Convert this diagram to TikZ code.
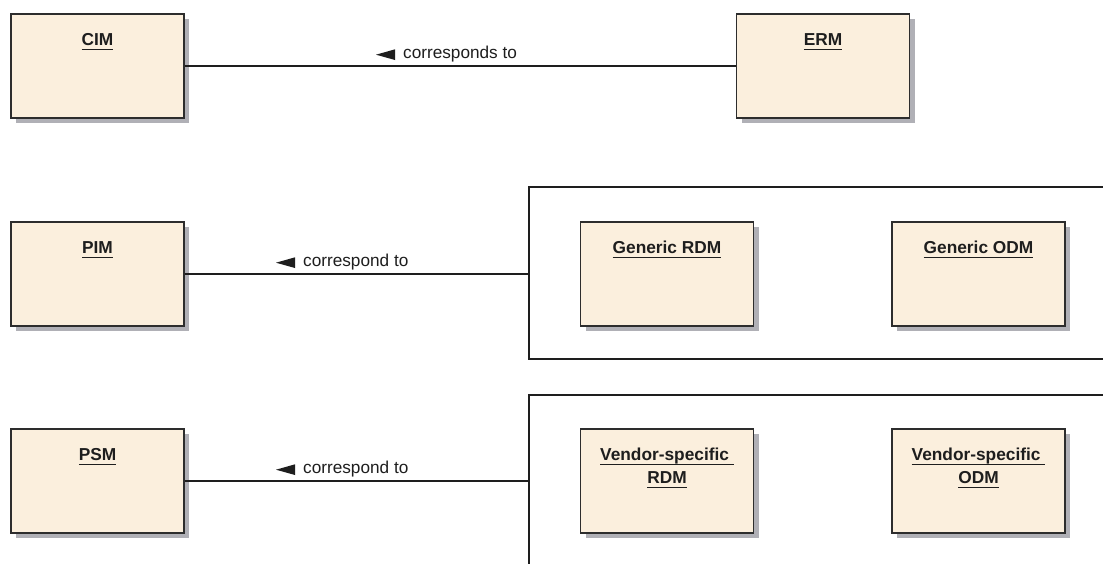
\documentclass[tikz,border=0pt]{standalone}
\usepackage{fontspec}
\setmainfont{Liberation Sans}
\usetikzlibrary{shadows,calc}

\definecolor{boxfill}{RGB}{251,239,221}
\definecolor{boxline}{RGB}{45,45,45}
\definecolor{shade}{RGB}{176,176,182}
\definecolor{ink}{RGB}{30,30,30}

% underlined title with the rule a few points below the baseline
\newcommand{\ulin}[1]{\setbox0\hbox{#1}\rlap{\rule[-5pt]{\wd0}{1.1pt}}\box0}

\tikzset{
  umlbox/.style={draw=boxline, line width=1.3pt, fill=boxfill,
    minimum width=173pt, minimum height=104pt, inner sep=0pt,
    drop shadow={shadow xshift=5pt, shadow yshift=-5pt, fill=shade, opacity=1}},
  title/.style={font=\fontsize{17.3}{23}\selectfont\bfseries, text=ink,
    inner sep=0pt, anchor=base},
  lbl/.style={font=\fontsize{17.2}{20}\selectfont, text=ink, inner sep=0pt,
    anchor=base west},
  link/.style={draw=ink, line width=1.1pt},
  frameline/.style={draw=ink, line width=1.2pt},
}

% small filled triangle in front of a connector label
\newcommand{\dirmark}[1]{%
  \fill[ink] ($(#1.base west)+(-8,-8.7)$) -- ($(#1.base west)+(-8,2)$)
    -- ($(#1.base west)+(-27,-3.3)$) -- cycle;}

\begin{document}
\begin{tikzpicture}[x=1pt, y=-1pt]
\useasboundingbox[fill=white] (0,0) rectangle (1103,563);

% packages of realisations (open to the right)
\draw[frameline] (1110,187) -- (529,187) -- (529,359) -- (1110,359);
\draw[frameline] (1110,395) -- (529,395) -- (529,570);
\coordinate (genframe) at (529,274);
\coordinate (venframe) at (529,481);

% model boxes
\node[umlbox] (cim) at (97.5,66) {};
\node[umlbox] (erm) at (823,66) {};
\node[umlbox] (pim) at (97.5,274) {};
\node[umlbox] (grdm) at (667,274) {};
\node[umlbox] (godm) at (978.5,274) {};
\node[umlbox] (psm) at (97.5,481) {};
\node[umlbox] (vrdm) at (667,481) {};
\node[umlbox] (vodm) at (978.5,481) {};

% titles
\node[title] (cim-t) at ($(cim.north)+(0,32)$) {\ulin{CIM}};
\node[title] (erm-t) at ($(erm.north)+(0,32)$) {\ulin{ERM}};
\node[title] (pim-t) at ($(pim.north)+(0,32)$) {\ulin{PIM}};
\node[title] (grdm-t) at ($(grdm.north)+(0,32)$) {\ulin{Generic RDM}};
\node[title] (godm-t) at ($(godm.north)+(0,32)$) {\ulin{Generic ODM}};
\node[title] (psm-t) at ($(psm.north)+(0,32)$) {\ulin{PSM}};
\node[title] (vrdm-t) at ($(vrdm.north)+(0,32)$) {\ulin{Vendor-specific\ }};
\node[title] (vrdm-t2) at ($(vrdm.north)+(0,55)$) {\ulin{RDM}};
\node[title] (vodm-t) at ($(vodm.north)+(0,32)$) {\ulin{Vendor-specific\ }};
\node[title] (vodm-t2) at ($(vodm.north)+(0,55)$) {\ulin{ODM}};

% connectors
\draw[link] (cim.east) -- (erm.west);
\draw[link] (pim.east) -- (genframe);
\draw[link] (psm.east) -- (venframe);

% connector labels
\node[lbl] (l1) at (403,58) {corresponds to};
\node[lbl] (l2) at (303,266) {correspond to};
\node[lbl] (l3) at (303,473) {correspond to};
\dirmark{l1}
\dirmark{l2}
\dirmark{l3}
\end{tikzpicture}
\end{document}
